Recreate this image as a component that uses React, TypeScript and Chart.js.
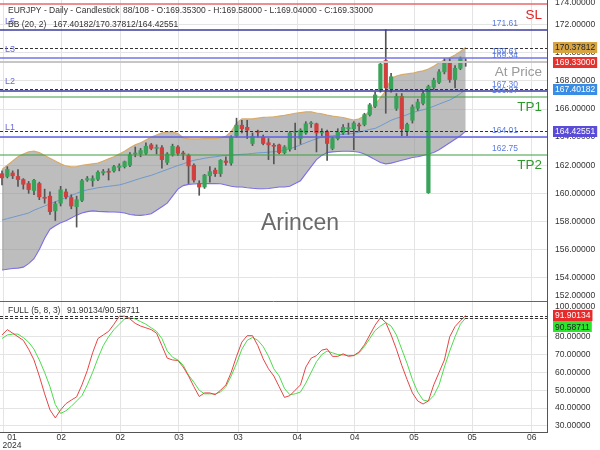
import React, { useEffect, useRef } from "react";
import { Chart, registerables } from "chart.js";
Chart.register(...registerables);

const FONT = "'Liberation Sans', Arial, sans-serif";
const AX_FONT = `8.5px ${FONT}`;

// ---- candles (daily EURJPY) ----
const opens = [161.40,161.20,161.45,161.20,160.98,160.70,160.20,160.70,159.70,159.80,
 158.75,159.30,160.10,159.70,159.05,159.50,160.95,160.90,161.00,161.45,
 161.55,161.60,161.85,161.90,162.00,162.80,162.80,162.85,163.45,163.20,
 163.25,162.20,162.75,163.30,162.85,162.70,162.00,160.70,160.45,161.25,
 161.65,161.40,162.30,162.15,164.10,164.85,164.70,163.55,164.40,164.00,
 163.60,163.40,163.45,162.90,163.15,164.35,163.90,164.30,164.95,164.95,
 164.30,164.40,163.20,163.90,164.30,164.60,164.60,164.85,164.90,165.60,
 166.20,167.35,169.45,167.45,166.05,166.90,164.40,165.20,166.05,166.40,
 160.05,167.55,167.90,168.65,169.35,168.10,168.90,169.353];
const highs = [161.60,161.90,161.60,161.70,161.05,160.85,161.00,160.80,160.30,160.10,
 159.40,160.50,160.30,159.90,159.80,161.00,161.20,161.25,161.60,161.70,
 161.75,162.00,162.10,162.30,162.90,163.30,163.20,163.60,163.55,163.45,
 163.40,162.90,163.50,163.40,163.00,162.80,162.10,160.90,161.35,161.90,
 161.80,162.40,162.60,164.10,165.35,165.20,165.20,164.30,164.50,164.15,
 163.90,163.55,163.50,163.40,164.40,165.00,164.60,165.10,165.10,165.00,
 164.60,164.50,164.00,164.60,164.90,165.00,165.10,165.00,165.70,166.40,
 167.20,169.25,171.65,168.55,167.10,167.10,165.00,166.30,166.70,167.30,
 167.70,168.20,168.80,169.60,169.60,169.10,169.70,169.58];
const lows = [160.60,161.10,161.05,160.50,160.30,160.00,159.90,159.55,159.30,158.50,
 158.07,159.10,159.60,158.90,157.60,159.40,160.85,160.50,160.90,161.30,
 160.95,161.50,161.60,161.80,161.90,162.60,162.60,162.75,163.10,162.80,
 161.80,162.05,162.65,162.70,162.40,160.70,160.80,159.86,160.35,160.80,
 161.20,161.20,162.00,162.00,164.00,164.30,163.90,163.40,164.00,163.45,
 162.40,162.10,162.80,162.80,163.00,163.10,163.50,164.20,164.70,162.95,
 164.10,162.35,163.10,163.80,164.20,164.20,163.10,164.40,164.80,165.50,
 166.10,167.20,165.70,167.20,165.90,164.10,164.10,165.00,165.90,166.30,
 160.00,167.40,167.80,168.50,167.90,167.50,168.80,169.04];
const closes = [161.10,161.70,161.25,160.98,160.65,160.27,160.93,159.75,159.65,158.70,
 159.25,160.25,159.75,159.10,159.55,160.90,161.05,161.05,161.50,161.55,
 161.50,161.90,161.95,162.25,162.75,162.85,163.05,163.35,163.20,163.25,
 162.40,162.80,163.35,162.85,162.80,161.95,160.95,160.45,161.30,161.55,
 161.40,162.35,162.20,164.00,164.85,164.60,164.50,164.05,164.35,163.55,
 163.45,163.35,162.90,163.30,164.30,164.40,164.50,164.95,165.00,164.30,
 164.40,163.55,163.90,164.35,164.70,164.65,165.00,164.80,165.60,166.30,
 167.00,169.20,167.50,168.30,166.90,164.60,164.90,166.15,166.50,167.10,
 167.60,168.05,168.65,169.35,168.10,168.90,169.60,169.33];

// ---- Bollinger bands (20, 2) ----
const bbUpper = [161.70,162.00,162.30,162.60,162.80,162.95,163.00,162.90,162.70,162.50,
 162.30,162.10,161.95,161.88,161.90,162.00,162.05,162.10,162.15,162.30,
 162.45,162.60,162.80,163.00,163.25,163.45,163.60,163.80,164.00,164.15,
 164.30,164.38,164.38,164.25,163.95,163.90,163.88,163.88,163.90,163.90,
 163.90,163.95,164.05,164.40,165.00,165.30,165.30,165.30,165.35,165.40,
 165.42,165.45,165.50,165.55,165.62,165.70,165.75,165.80,165.80,165.72,
 165.65,165.57,165.50,165.45,165.40,165.30,165.22,165.30,165.50,165.90,
 166.30,166.80,167.30,168.20,168.35,168.45,168.50,168.55,168.65,168.72,
 168.85,169.05,169.30,169.50,169.65,169.85,170.10,170.37812];
const bbMiddle = [158.10,158.20,158.30,158.40,158.50,158.60,158.80,158.95,159.10,159.25,
 159.40,159.55,159.70,159.85,160.00,160.15,160.25,160.32,160.40,160.45,
 160.50,160.55,160.60,160.70,160.82,160.95,161.07,161.18,161.28,161.42,
 161.56,161.70,161.84,161.98,162.10,162.25,162.35,162.42,162.50,162.56,
 162.60,162.66,162.70,162.72,162.75,162.78,162.80,162.84,162.88,162.90,
 162.93,162.96,163.00,163.08,163.18,163.30,163.45,163.60,163.75,163.88,
 164.00,164.05,164.10,164.15,164.20,164.23,164.27,164.35,164.45,164.55,
 164.62,164.80,165.00,165.20,165.34,165.45,165.60,165.75,165.85,165.95,
 166.05,166.20,166.35,166.50,166.64,166.85,167.10,167.40182];
const bbLower = [154.55,154.60,154.65,154.68,154.75,155.00,155.35,156.00,156.80,157.45,
 157.70,157.90,158.05,158.25,158.45,158.60,158.70,158.75,158.72,158.70,
 158.68,158.67,158.65,158.60,158.50,158.45,158.43,158.48,158.55,158.80,
 159.05,159.30,159.80,160.30,160.55,160.64,160.67,160.69,160.69,160.69,
 160.69,160.68,160.60,160.50,160.45,160.45,160.40,160.36,160.33,160.33,
 160.35,160.40,160.45,160.45,160.50,160.70,160.90,161.40,161.90,162.40,
 162.70,162.90,162.95,162.98,163.00,163.00,162.98,162.92,162.80,162.60,
 162.40,162.20,162.10,162.15,162.25,162.35,162.45,162.55,162.60,162.70,
 162.80,162.90,163.10,163.35,163.60,163.85,164.10,164.42551];

// ---- Stochastic FULL (5, 8, 3) ----
const stochK = [81,84,82,80,78,73,67,58,48,39,
 34.5,39,42.5,44.5,46.3,53,61,71,79,81,
 83,87,91.5,91.5,90,87.5,86,85,84,82,
 75,68,67,66.7,63,58,52,46.5,48.5,48.5,
 47.5,50,53,60,69,77,80.6,80.6,75,67.6,
 62,58,52,46,47,50,53,63,68,69.4,
 72.5,73.2,69,69,70.4,69,69.5,71.5,75.5,81,
 86.5,90.7,88,81,73,64,56,48.5,44,42.3,
 44,53,60,67,80,85.7,89,91.90134];
const stochD = [79,81,81.5,81.5,79.5,77,73,67,60,52,
 42,37,38.5,41,44,47,53,60,68,75,
 80,84,87,90,90.7,90,88.5,87,85,83,
 79,72,68.5,67,64,58.5,54.5,50,48,48,
 48,49,52,58,65,73,78,79.6,78,74.5,
 69,62,58,51,47.5,48,49,54,60,66,
 70,72,71,70,69.8,69.5,69.4,71,74.5,79,
 83.5,86,87.9,86,81,73,65,56,49,44.5,
 43.9,47,53,63,72,80,87,90.58711];

// ---- axes ----
const xTickValues = [0.2, 11.1, 22.2, 33.2, 44.3, 55.4, 66.2, 77.3, 88.2, 99.4];
const xTickLabels = ["01", "02", "02", "03", "03", "04", "04", "05", "05", "06"];
const yearLabel = "2024";
const mainGridValues = [154, 156, 158, 160, 162, 164, 166, 168, 170, 172];
const mainLabelValues = [152, 154, 156, 158, 160, 162, 164, 166, 168, 170, 172, 174];
const subGridValues = [30, 40, 50, 60, 70, 80, 90, 100];
const subLabelValues = [30, 40, 50, 60, 70, 80, 90, 100];

// ---- levels ----
const slLevel = 173.47;
const levelNames = ["L5", "L3", "L2", "L1"];
const levelPrices = [171.61, 169.61, 167.3, 164.01];
const levelColors = ["#3c3c9c", "#7474ea", "#3c3c9c", "#6262e2"];
const tpNames = ["TP1", "TP2"];
const tpPrices = [166.87, 162.75];
const atPriceLevel = 169.34;

const X_MIN = -0.375, X_MAX = 102.25;
const GRID = "#e4e4e4";

function txt(ctx: CanvasRenderingContext2D, s: string, x: number, y: number, font: string, color: string, align: CanvasTextAlign = "left", base: CanvasTextBaseline = "middle") {
  ctx.font = font; ctx.fillStyle = color; ctx.textAlign = align; ctx.textBaseline = base; ctx.fillText(s, x, y);
}
function hline(ctx: CanvasRenderingContext2D, y: number, x0: number, x1: number, color: string, w: number, dash: number[] = []) {
  ctx.save();
  ctx.strokeStyle = color; ctx.lineWidth = w; ctx.setLineDash(dash);
  const yy = w % 2 === 1 ? Math.round(y) + 0.5 : Math.round(y);
  ctx.beginPath(); ctx.moveTo(x0, yy); ctx.lineTo(x1, yy); ctx.stroke();
  ctx.restore();
}
function tag(ctx: CanvasRenderingContext2D, text: string, y: number, bg: string, fg: string) {
  ctx.font = AX_FONT;
  const w = ctx.measureText(text).width + 4;
  ctx.fillStyle = bg;
  ctx.fillRect(553, Math.round(y - 5.5), w, 11);
  txt(ctx, text, 555, y + 0.5, AX_FONT, fg);
}

const mainOverlay = {
  id: "mainOverlay",
  afterDatasetsDraw(chart: any) {
    const { ctx, chartArea: a, scales } = chart;
    const y = scales.y;
    const L = a.left, R = a.right;
    const n = closes.length - 1;
    hline(ctx, y.getPixelForValue(slLevel), L, R, "#e86a6a", 1.5);
    levelPrices.forEach((p, i) => hline(ctx, y.getPixelForValue(p), L, R, levelColors[i], 1.5));
    hline(ctx, y.getPixelForValue(atPriceLevel), L, R, "#c6c6c6", 2);
    tpPrices.forEach((p) => hline(ctx, y.getPixelForValue(p), L, R, "#3f9c3f", 1.2));
    [bbUpper[n], bbMiddle[n], bbLower[n]].forEach((p) => hline(ctx, y.getPixelForValue(p), L, R, "#333", 1, [3, 2]));
  },
  afterDraw(chart: any) {
    const { ctx, chartArea: a, scales } = chart;
    const y = scales.y;
    const n = closes.length - 1;
    ctx.save();
    const right = [...levelPrices, atPriceLevel, ...tpPrices];
    right.forEach((p) => txt(ctx, p.toFixed(2), 492, y.getPixelForValue(p) - 6.5, `8.5px ${FONT}`, "#5b7be0"));
    levelNames.forEach((nm, i) => txt(ctx, nm, 5, y.getPixelForValue(levelPrices[i]) - 9, `9px ${FONT}`, "#6a6ae0"));
    const big = `13.5px ${FONT}`;
    txt(ctx, "SL", 542, y.getPixelForValue(slLevel) + 11, big, "#e02424", "right");
    tpNames.forEach((nm, i) => txt(ctx, nm, 542, y.getPixelForValue(tpPrices[i]) + 10.5, big, "#2e9a2e", "right"));
    txt(ctx, "At Price", 542, y.getPixelForValue(atPriceLevel) + 10, big, "#9a9a9a", "right");
    txt(ctx, "Arincen", 300, 224, `23px ${FONT}`, "#6a6a6a", "center");
    txt(ctx, "EURJPY - Daily - Candlestick", 8, 10.5, AX_FONT, "#333");
    txt(ctx, `${closes.length}/108 - O:${opens[n].toFixed(5)} - H:${highs[n].toFixed(5)} - L:${lows[n].toFixed(5)} - C:${closes[n].toFixed(5)}`, 123, 10.5, AX_FONT, "#333");
    txt(ctx, "BB (20, 2)", 8, 25, AX_FONT, "#333");
    txt(ctx, `${bbMiddle[n].toFixed(5)}/${bbUpper[n].toFixed(5)}/${bbLower[n].toFixed(5)}`, 53, 25, AX_FONT, "#333");
    mainLabelValues.forEach((v) => {
      let py = y.getPixelForValue(v);
      py = Math.max(a.top + 3, Math.min(a.bottom - 4, py));
      txt(ctx, v.toFixed(5), 555, py, AX_FONT, "#333");
    });
    tag(ctx, bbUpper[n].toFixed(5), y.getPixelForValue(bbUpper[n]), "#d6a443", "#222");
    tag(ctx, closes[n].toFixed(5), y.getPixelForValue(closes[n]), "#e5322e", "#fff");
    tag(ctx, bbMiddle[n].toFixed(5), y.getPixelForValue(bbMiddle[n]), "#3a8de4", "#fff");
    tag(ctx, bbLower[n].toFixed(5), y.getPixelForValue(bbLower[n]), "#5a4cd6", "#fff");
    ctx.restore();
  },
};

const subOverlay = {
  id: "subOverlay",
  afterDatasetsDraw(chart: any) {
    const { ctx, chartArea: a, scales } = chart;
    const y = scales.y;
    const n = stochK.length - 1;
    hline(ctx, y.getPixelForValue(stochK[n]), a.left, a.right, "#333", 1, [3, 2]);
    hline(ctx, y.getPixelForValue(stochD[n]), a.left, a.right, "#333", 1, [3, 2]);
  },
  afterDraw(chart: any) {
    const { ctx, chartArea: a, scales } = chart;
    const y = scales.y, x = scales.x;
    const n = stochK.length - 1;
    ctx.save();
    hline(ctx, 0.5, 0, a.right, "#666", 1);
    txt(ctx, "FULL (5, 8, 3)", 8, 10.7, AX_FONT, "#333");
    txt(ctx, `${stochK[n].toFixed(5)}/${stochD[n].toFixed(5)}`, 67, 10.7, AX_FONT, "#333");
    subLabelValues.forEach((v) => {
      let py = y.getPixelForValue(v);
      py = Math.max(a.top + 7, Math.min(a.bottom - 4, py));
      txt(ctx, v.toFixed(5), 555, py, AX_FONT, "#333");
    });
    const yk = y.getPixelForValue(stochK[n]);
    let yd = y.getPixelForValue(stochD[n]);
    if (yd < yk + 11.3) yd = yk + 11.3;
    tag(ctx, stochK[n].toFixed(5), yk, "#e82a2a", "#fff");
    tag(ctx, stochD[n].toFixed(5), yd, "#2ee52e", "#222");
    xTickValues.forEach((v, i) => {
      const px = Math.max(12, x.getPixelForValue(v));
      txt(ctx, xTickLabels[i], px, a.bottom + 5.5, AX_FONT, "#333", "center");
      if (i === 0) txt(ctx, yearLabel, px, a.bottom + 13.5, AX_FONT, "#333", "center");
    });
    ctx.restore();
  },
};

function xScale(h: number) {
  return {
    type: "linear", min: X_MIN, max: X_MAX, offset: false,
    grid: { color: GRID, drawTicks: false, offset: false },
    border: { display: h > 0, color: "#555", width: 1 },
    ticks: { display: false },
    afterBuildTicks: (s: any) => { s.ticks = xTickValues.map((v) => ({ value: v })); },
    afterFit: (s: any) => { s.height = h; s.paddingLeft = 0; s.paddingRight = 0; },
  };
}
function yScale(min: number, max: number, grid: number[]) {
  return {
    type: "linear", position: "right", min, max,
    grid: { color: GRID, drawTicks: false },
    border: { display: true, color: "#555", width: 1 },
    ticks: { display: false },
    afterBuildTicks: (s: any) => { s.ticks = grid.map((v) => ({ value: v })); },
    afterFit: (s: any) => { s.width = 53; s.paddingTop = 0; s.paddingBottom = 0; },
  };
}

function mainConfig(): any {
  const pts = (arr: number[]) => arr.map((v, i) => ({ x: i, y: v }));
  return {
    type: "bar",
    data: {
      datasets: [
        { type: "line", data: pts(bbUpper), borderColor: "#d8ab6c", borderWidth: 1.2, pointRadius: 0, fill: "+1", backgroundColor: "rgba(145,145,145,0.6)", order: 4 },
        { type: "line", data: pts(bbLower), borderColor: "#7b6fe6", borderWidth: 1.1, pointRadius: 0, fill: false, order: 3 },
        { type: "line", data: pts(bbMiddle), borderColor: "#6d98cc", borderWidth: 1, pointRadius: 0, fill: false, order: 2 },
        { type: "bar", data: lows.map((l, i) => ({ x: i, y: [l, highs[i]] })), backgroundColor: "#555555", barThickness: 1, grouped: false, borderWidth: 0, order: 1 },
        { type: "bar", data: opens.map((o, i) => ({ x: i, y: [o, closes[i]] })), backgroundColor: opens.map((o, i) => (closes[i] >= o ? "#3aa35a" : "#d23f3f")), barThickness: 3.6, minBarLength: 1, grouped: false, borderWidth: 0, order: 0 },
      ],
    },
    options: {
      responsive: false, animation: false, events: [],
      layout: { padding: 0 },
      plugins: { legend: { display: false }, tooltip: { enabled: false } },
      scales: { x: xScale(0), y: yScale(152.41, 173.76, mainGridValues) },
    },
    plugins: [mainOverlay],
  };
}

function subConfig(): any {
  const pts = (arr: number[]) => arr.map((v, i) => ({ x: i, y: v }));
  return {
    type: "line",
    data: {
      datasets: [
        { data: pts(stochK), borderColor: "#e84444", borderWidth: 1, pointRadius: 0, fill: false, order: 0 },
        { data: pts(stochD), borderColor: "#4cdc4c", borderWidth: 1, pointRadius: 0, fill: false, order: 1 },
      ],
    },
    options: {
      responsive: false, animation: false, events: [],
      layout: { padding: 0 },
      plugins: { legend: { display: false }, tooltip: { enabled: false } },
      scales: { x: xScale(18), y: yScale(26.6, 100.6, subGridValues) },
    },
    plugins: [subOverlay],
  };
}

export default function App() {
  const mainRef = useRef<HTMLCanvasElement>(null);
  const subRef = useRef<HTMLCanvasElement>(null);
  useEffect(() => {
    Chart.defaults.font.family = FONT;
    const c1 = new Chart(mainRef.current as HTMLCanvasElement, mainConfig());
    const c2 = new Chart(subRef.current as HTMLCanvasElement, subConfig());
    return () => { c1.destroy(); c2.destroy(); };
  }, []);
  return (
    <div style={{ position: "fixed", left: 0, top: 0, width: 600, height: 450, background: "#fff", overflow: "hidden" }}>
      <canvas ref={mainRef} width={600} height={300} style={{ position: "absolute", left: 0, top: 0, width: 600, height: 300 }} />
      <canvas ref={subRef} width={600} height={150} style={{ position: "absolute", left: 0, top: 300, width: 600, height: 150 }} />
    </div>
  );
}
